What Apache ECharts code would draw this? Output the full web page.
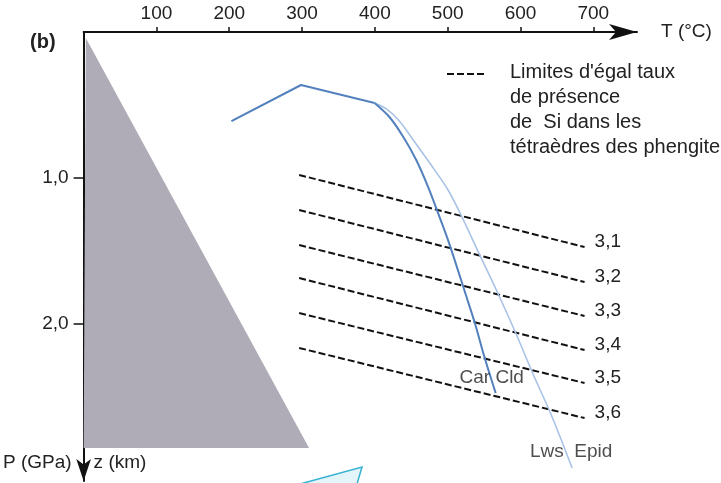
<!DOCTYPE html>
<html>
<head>
<meta charset="utf-8">
<script src="https://cdn.jsdelivr.net/npm/echarts@6/dist/echarts.min.js"></script>
<style>html,body{margin:0;padding:0;background:#fff;}#c{width:721px;height:483px;}</style>
</head>
<body>
<div id="c"></div>
<script>
// ---- data ----
const tTicks = [100, 200, 300, 400, 500, 600, 700];           // T (°C) labels
const pTickValues = [1, 2];                                    // GPa
const pTickLabels = ['1,0', '2,0'];
const depthTickValues = [45];                                  // km
const kmAtTick = 45, gpaAtTick = 1.479;                        // 45 km ≈ 1.48 GPa
const gradientZone = [[3, 0.041], [0, 2.849], [309.6, 2.849]]; // grey forbidden zone
const carCld = [[203, 0.610], [298.6, 0.363], [399.6, 0.486], [420.0, 0.582], [439.1, 0.719],
  [456.8, 0.877], [473.2, 1.062], [486.8, 1.240], [500.5, 1.425], [512.7, 1.610], [525.0, 1.801],
  [537.3, 1.993], [550.9, 2.233], [565.9, 2.473]];
const lwsEpid = [[399.6, 0.486], [415.9, 0.527], [433.6, 0.610], [452.7, 0.740], [477.3, 0.911],
  [500.5, 1.082], [518.2, 1.253], [542.8, 1.514], [570.0, 1.801], [594.6, 2.075], [617.8, 2.349],
  [642.3, 2.623], [670.9, 2.986]];
const si31 = [[296, 0.979], [688, 1.473]];
const si32 = [[296, 1.219], [688, 1.712]];
const si33 = [[296, 1.459], [688, 1.945]];
const si34 = [[296, 1.685], [688, 2.178]];
const si35 = [[296, 1.925], [688, 2.404]];
const si36 = [[296, 2.164], [688, 2.644]];
const siLines = [si31, si32, si33, si34, si35, si36];
const siNames = ['3,1', '3,2', '3,3', '3,4', '3,5', '3,6'];
const reactionLabels = [{ name: 'Car Cld', value: [560.5, 2.370] }, { name: 'Lws  Epid', value: [669.6, 2.877] }];
const legendLines = ["Limites d'égal taux", 'de présence', 'de  Si dans les', 'tétraèdres des phengite'];

const T_MAX = 760, P_MAX = 3.075;
const FONT = 'Liberation Sans, Arial, sans-serif';
const kmPerGPa = kmAtTick / gpaAtTick;
const KNEE = 2; // index of the knee in carCld

const chart = echarts.init(document.getElementById('c'), null, { renderer: 'canvas' });

const series = [];
series.push({
  type: 'custom', name: 'zone', silent: true, z: 1,
  data: [0],
  renderItem: function (params, api) {
    const pts = gradientZone.map(p => api.coord(p));
    return { type: 'polygon', shape: { points: pts }, style: { fill: '#afabb7' } };
  }
});
siLines.forEach((d, i) => {
  series.push({
    type: 'line', name: siNames[i], data: d, showSymbol: false, silent: true, z: 3,
    lineStyle: { color: '#111', width: 2, type: [7, 3] },
    endLabel: { show: true, formatter: siNames[i], color: '#222', fontFamily: FONT, fontSize: 19, offset: [2, -5] }
  });
});
series.push({
  type: 'line', name: 'Lws Epid', data: lwsEpid, showSymbol: false, silent: true, z: 4, smooth: 0.3,
  lineStyle: { color: '#a9c3e6', width: 1.6 }
});
series.push({
  type: 'line', name: 'Car Cld (low)', data: carCld.slice(0, KNEE + 1), showSymbol: false, silent: true, z: 5,
  lineStyle: { color: '#5281bd', width: 2 }
});
series.push({
  type: 'line', name: 'Car Cld', data: carCld.slice(KNEE), showSymbol: false, silent: true, z: 5, smooth: 0.3,
  lineStyle: { color: '#5281bd', width: 2 }
});
series.push({
  type: 'scatter', name: 'labels', data: reactionLabels, symbolSize: 0, silent: true, z: 6,
  label: { show: true, position: 'inside', formatter: p => p.name, color: '#222', fontFamily: FONT, fontSize: 19 }
});

const legendGraphic = [{
  type: 'line', shape: { x1: 447, y1: 74, x2: 484, y2: 74 },
  style: { stroke: '#111', lineWidth: 2, lineDash: [7, 3] }
}];
legendLines.forEach((t, i) => {
  legendGraphic.push({
    type: 'text', left: 510, top: 62 + i * 25,
    style: { text: t, fill: '#222', font: '20px ' + FONT }
  });
});
legendGraphic.push({
  type: 'polygon', shape: { points: [[300, 484], [362, 467], [357, 484]] },
  style: { fill: '#e4f5fa', stroke: '#35b1d3', lineWidth: 1.5 }
});

chart.setOption({
  animation: false,
  title: { text: '(b)', left: 25, top: 27, textStyle: { fontFamily: FONT, fontSize: 20, fontWeight: 'bold', color: '#222' } },
  grid: { left: 80, right: 84, top: 32, bottom: 2, containLabel: false },
  xAxis: {
    type: 'value', position: 'top', min: 0, max: T_MAX, interval: 100,
    name: 'T (°C)', nameLocation: 'end', nameGap: 24,
    nameTextStyle: { fontFamily: FONT, fontSize: 19, color: '#222', align: 'left', verticalAlign: 'middle' },
    axisLine: { lineStyle: { color: '#111', width: 2 }, symbol: ['none', 'arrow'], symbolSize: [12, 28] },
    axisTick: { show: true, length: 5, lineStyle: { color: '#111', width: 1.5 }, customValues: tTicks },
    axisLabel: { customValues: tTicks, margin: 9, color: '#222', fontFamily: FONT, fontSize: 19 },
    splitLine: { show: false }
  },
  yAxis: [{
    type: 'value', inverse: true, min: 0, max: P_MAX, position: 'left',
    name: 'P (GPa)', nameLocation: 'end', nameGap: -18,
    nameTextStyle: { fontFamily: FONT, fontSize: 19, color: '#222', align: 'right', verticalAlign: 'middle', padding: [0, 12, 0, 0] },
    axisLine: { lineStyle: { color: '#111', width: 2 }, symbol: ['arrow', 'none'], symbolSize: [11, 22] },
    axisTick: { show: true, length: 10, lineStyle: { color: '#111', width: 1.5 }, customValues: pTickValues },
    axisLabel: { customValues: pTickValues, margin: 15, color: '#222', fontFamily: FONT, fontSize: 19,
      formatter: v => pTickLabels[pTickValues.indexOf(v)] },
    splitLine: { show: false }
  }, {
    type: 'value', inverse: true, min: 0, max: P_MAX * kmPerGPa, position: 'left', offset: 0,
    name: 'z (km)', nameLocation: 'end', nameGap: -18,
    nameTextStyle: { fontFamily: FONT, fontSize: 19, color: '#222', align: 'left', verticalAlign: 'middle', padding: [0, 0, 0, 10] },
    axisLine: { show: false },
    axisTick: { show: true, inside: true, length: 7, lineStyle: { color: '#111', width: 1.5 }, customValues: depthTickValues },
    axisLabel: { inside: true, customValues: depthTickValues, margin: 11, color: '#222', fontFamily: FONT, fontSize: 19 },
    splitLine: { show: false }
  }],
  graphic: legendGraphic,
  series: series
});
</script>
</body>
</html>
